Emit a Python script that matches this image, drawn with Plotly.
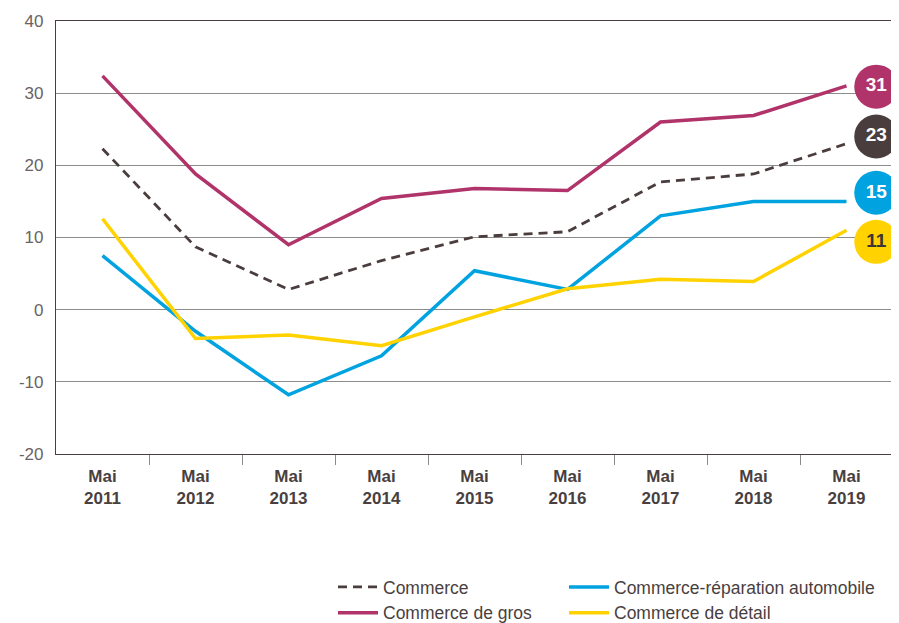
import plotly.graph_objects as go

years = ["2011", "2012", "2013", "2014", "2015", "2016", "2017", "2018", "2019"]
tick_labels = ["Mai<br>" + y for y in years]
y_ticks = [-20, -10, 0, 10, 20, 30, 40]
y_tick_text = [str(v) for v in y_ticks]

commerce = [22.3, 8.7, 2.8, 6.8, 10.1, 10.8, 17.7, 18.8, 23.0]
commerce_gros = [32.4, 18.8, 9.0, 15.4, 16.8, 16.5, 26.0, 26.9, 31.0]
commerce_auto = [7.5, -3.0, -11.8, -6.4, 5.4, 2.8, 13.0, 15.0, 15.0]
commerce_detail = [12.6, -4.0, -3.5, -5.0, -1.0, 2.9, 4.2, 3.9, 11.0]

series_names = ["Commerce", "Commerce de gros", "Commerce-réparation automobile", "Commerce de détail"]
series_values = [commerce, commerce_gros, commerce_auto, commerce_detail]
colors = ["#4a3d3d", "#b0336a", "#00a3e0", "#ffd200"]
dashes = ["9px,6px", "solid", "solid", "solid"]
widths = [2.8, 3.5, 3.5, 3.5]
legend_ids = ["legend", "legend", "legend2", "legend2"]

# badge vertical nudges (axis units) so the round labels don't overlap
badge_nudge = [1.0, -0.1, 1.2, -1.6]
badge_text_colors = ["white", "white", "white", "#3d3535"]

x_idx = list(range(len(years)))

fig = go.Figure()
for name, vals, c, d, w, lg in zip(series_names, series_values, colors, dashes, widths, legend_ids):
    fig.add_trace(go.Scatter(
        x=x_idx, y=vals, mode="lines", name=name, legend=lg,
        line=dict(color=c, width=w, dash=d),
    ))

last_x = x_idx[-1] + 0.32
fig.add_trace(go.Scatter(
    x=[last_x] * len(series_values),
    y=[v[-1] + n for v, n in zip(series_values, badge_nudge)],
    mode="markers+text",
    text=[str(round(v[-1])) for v in series_values],
    textposition="middle center",
    textfont=dict(family="Liberation Sans", size=19, color=badge_text_colors, weight="bold"),
    marker=dict(size=44, color=colors, line=dict(width=0)),
    cliponaxis=False, showlegend=False, hoverinfo="skip",
))

# the page body adds an 8px offset, so the figure is 8px smaller than the window
W, H = 891, 615
L, R, T, B = 48, 6, 13, 169
pw, ph = W - L - R, H - T - B

legend_common = dict(
    orientation="v", xanchor="left", yanchor="top",
    font=dict(size=17.5, color="#4a3f3f", family="Liberation Sans"),
    itemwidth=40, tracegroupgap=0, bgcolor="rgba(0,0,0,0)",
)
leg_top = 561

fig.update_layout(
    width=W, height=H,
    margin=dict(l=L, r=R, t=T, b=B, autoexpand=False),
    paper_bgcolor="white", plot_bgcolor="white",
    font=dict(family="Liberation Sans", color="#4a3f3f"),
    showlegend=True,
    legend=dict(x=(325 - L) / pw, y=(H - B - leg_top) / ph, **legend_common),
    legend2=dict(x=(556 - L) / pw, y=(H - B - leg_top) / ph, **legend_common),
)
fig.update_xaxes(
    range=[-0.5, len(years) - 0.5], automargin=False,
    tickmode="array", tickvals=x_idx, ticktext=tick_labels,
    ticks="", showgrid=False, zeroline=False,
    showline=True, linecolor="#4a3d3d", linewidth=1.2, mirror=True,
    tickfont=dict(size=17, color="#4a3f3f", weight="bold"),
    ticklabelstandoff=6,
    minor=dict(tickmode="array", tickvals=[i + 0.5 for i in x_idx],
               ticks="outside", ticklen=10, tickcolor="#8a8a8a", tickwidth=1.2, showgrid=False),
)
fig.update_yaxes(
    range=[-20, 40], automargin=False,
    tickmode="array", tickvals=y_ticks, ticktext=y_tick_text,
    showgrid=True, gridcolor="#8c8c8c", gridwidth=1,
    zeroline=True, zerolinecolor="#8c8c8c", zerolinewidth=1,
    showline=True, linecolor="#4a3d3d", linewidth=1.2,
    ticks="", ticklabelstandoff=8,
    tickfont=dict(size=17, color="#6b6262"),
)

fig.write_html("out.html")
